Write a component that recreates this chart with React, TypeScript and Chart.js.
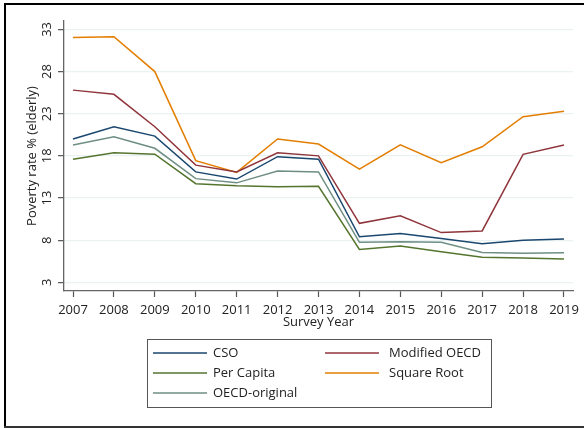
import React, { useEffect, useRef } from "react";
import { Chart, registerables } from "chart.js";

Chart.register(...registerables);

const years = [2007, 2008, 2009, 2010, 2011, 2012, 2013, 2014, 2015, 2016, 2017, 2018, 2019];
const yTicks = [3, 8, 13, 18, 23, 28, 33];

const cso = [20.0, 21.46, 20.35, 16.1, 15.25, 17.9, 17.6, 8.4, 8.8, 8.2, 7.58, 7.98, 8.14];
const modifiedOecd = [25.8, 25.3, 21.46, 16.9, 16.1, 18.37, 18.0, 10.0, 10.9, 8.9, 9.1, 18.18, 19.3];
const perCapita = [17.6, 18.37, 18.2, 14.7, 14.45, 14.34, 14.4, 6.9, 7.3, 6.63, 5.96, 5.88, 5.77];
const squareRoot = [32.05, 32.13, 28.0, 17.43, 16.04, 20.0, 19.4, 16.44, 19.3, 17.2, 19.08, 22.64, 23.3];
const oecdOriginal = [19.28, 20.27, 18.9, 15.3, 14.8, 16.2, 16.1, 7.74, 7.8, 7.74, 6.55, 6.44, 6.5];

const seriesNames = ["CSO", "Modified OECD", "Per Capita", "Square Root", "OECD-original"];
const seriesValues = [cso, modifiedOecd, perCapita, squareRoot, oecdOriginal];
const seriesColors = ["#1a476f", "#90353b", "#55752f", "#e37e00", "#6e8e84"];

const FONT = "'Open Sans', sans-serif";
const TEXT = "#222222";

const decorPlugin = {
  id: "decor",
  beforeDraw(chart: any) {
    const ctx = chart.ctx;
    ctx.save();
    ctx.fillStyle = "#ffffff";
    ctx.fillRect(0, 0, chart.width, chart.height);
    // outer frame (left, top, bottom)
    ctx.fillStyle = "#000000";
    ctx.fillRect(4, 3, 2, 425);
    ctx.fillRect(4, 3, chart.width - 4, 2);
    ctx.fillStyle = "#333333";
    ctx.fillRect(4, 426, chart.width - 4, 2);
    ctx.restore();
  },
  afterDraw(chart: any) {
    const ctx = chart.ctx;
    const xs = chart.scales.x;
    const ys = chart.scales.y;
    const area = chart.chartArea;
    ctx.save();
    ctx.fillStyle = TEXT;
    ctx.font = `13px ${FONT}`;
    // y tick labels (rotated)
    for (const t of ys.ticks) {
      const py = ys.getPixelForValue(t.value);
      ctx.save();
      ctx.translate(47, py);
      ctx.rotate(-Math.PI / 2);
      ctx.textAlign = "center";
      ctx.textBaseline = "middle";
      ctx.fillText(String(t.value), 0, 0);
      ctx.restore();
    }
    // y title
    ctx.save();
    ctx.translate(32, (area.top + area.bottom) / 2);
    ctx.rotate(-Math.PI / 2);
    ctx.textAlign = "center";
    ctx.textBaseline = "middle";
    ctx.fillText("Poverty rate % (elderly)", 0, 0);
    ctx.restore();
    // x tick labels
    ctx.textAlign = "center";
    ctx.textBaseline = "middle";
    for (const t of xs.ticks) {
      const px = xs.getPixelForValue(t.value);
      ctx.fillText(String(t.value), px, 310);
    }
    // x title
    ctx.fillText("Survey Year", (area.left + area.right) / 2, 322);

    // legend
    ctx.strokeStyle = "#555555";
    ctx.lineWidth = 1;
    ctx.strokeRect(147.5, 339.5, 344, 68);
    const colLine = [153, 325];
    const colText = [213, 389];
    const rowY = [353, 373, 393];
    chart.data.datasets.forEach((ds: any, i: number) => {
      const c = i % 2;
      const r = Math.floor(i / 2);
      ctx.strokeStyle = ds.borderColor;
      ctx.lineWidth = 1.5;
      ctx.beginPath();
      ctx.moveTo(colLine[c], rowY[r]);
      ctx.lineTo(colLine[c] + 54, rowY[r]);
      ctx.stroke();
      ctx.fillStyle = TEXT;
      ctx.textAlign = "left";
      ctx.textBaseline = "middle";
      ctx.fillText(ds.label, colText[c], rowY[r]);
    });
    ctx.restore();
  },
};

export default function App() {
  const ref = useRef<HTMLCanvasElement | null>(null);
  useEffect(() => {
    if (!ref.current) return;
    const datasets = seriesNames.map((name, i) => ({
      label: name,
      data: years.map((yr, j) => ({ x: yr, y: seriesValues[i][j] })),
      borderColor: seriesColors[i],
      backgroundColor: seriesColors[i],
      borderWidth: 1.5,
      pointRadius: 0,
      tension: 0,
      fill: false,
    }));
    const chart = new Chart(ref.current, {
      type: "line",
      data: { datasets },
      plugins: [decorPlugin],
      options: {
        animation: false,
        responsive: false,
        maintainAspectRatio: false,
        layout: { padding: { left: 58, top: 21, right: 11, bottom: 132 } },
        plugins: { legend: { display: false }, tooltip: { enabled: false } },
        scales: {
          x: {
            type: "linear",
            min: 2006.78,
            max: 2019.22,
            afterBuildTicks: (s: any) => {
              s.ticks = years.map((v) => ({ value: v }));
            },
            ticks: { display: false },
            grid: {
              drawOnChartArea: false,
              drawTicks: true,
              tickLength: 6,
              tickColor: "#555555",
              tickWidth: 1.2,
            },
            border: { display: true, color: "#666666", width: 1.3 },
          },
          y: {
            type: "linear",
            min: 1.97,
            max: 34,
            afterBuildTicks: (s: any) => {
              s.ticks = yTicks.map((v) => ({ value: v }));
            },
            ticks: { display: false },
            grid: {
              drawOnChartArea: true,
              drawTicks: true,
              tickLength: 6,
              color: "#eaf2f3",
              lineWidth: 1.3,
              tickColor: "#555555",
              tickWidth: 1.2,
            },
            border: { display: true, color: "#666666", width: 1.3 },
          },
        },
      },
    });
    return () => chart.destroy();
  }, []);
  return (
    <div style={{ position: "fixed", left: 0, top: 0, width: 584, height: 429, background: "#fff" }}>
      <canvas ref={ref} width={584} height={429} style={{ width: 584, height: 429, display: "block" }} />
    </div>
  );
}
